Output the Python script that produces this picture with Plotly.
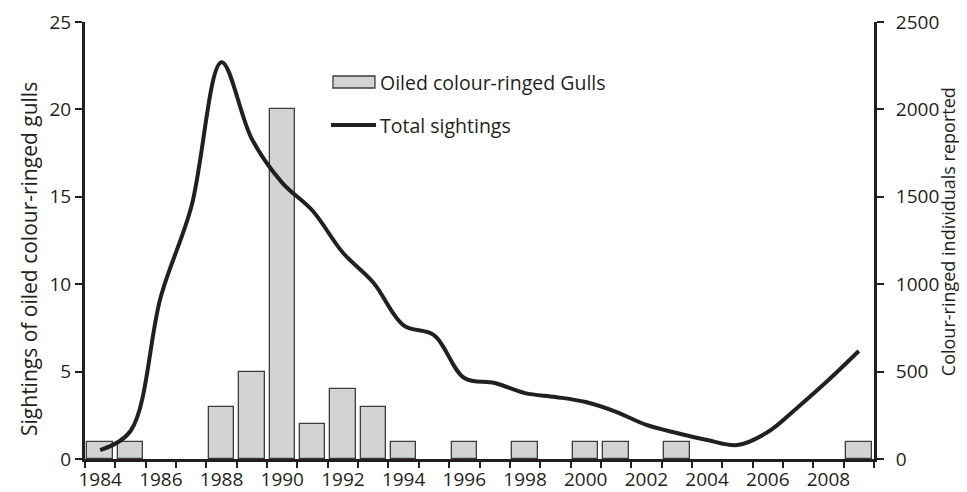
import plotly.graph_objects as go

years = list(range(1984, 2010))
oiled = [1, 1, 0, 0, 3, 5, 20, 2, 4, 3, 1, 0, 1, 0, 1, 0, 1, 1, 0, 1, 0, 0, 0, 0, 0, 1]
total = [51, 160, 930, 1440, 2270, 1830, 1580, 1420, 1180, 1010, 765, 709, 463, 435,
         377, 355, 326, 270, 195, 149, 109, 80, 154, 298, 452, 618]
tick_years = list(range(1984, 2009, 2))

INK = "#231f20"
FONT = "Open Sans"
TICK_SIZE = 19
TEXT_SIZE = 19.5

bar_years = [y for y, v in zip(years, oiled) if v > 0]
bar_vals = [v for v in oiled if v > 0]

fig = go.Figure()
fig.add_trace(go.Bar(
    x=bar_years, y=bar_vals, width=0.84,
    marker=dict(color="#d1d3d4", line=dict(color="#3c3c3c", width=1.3)),
    name="Oiled colour-ringed Gulls", showlegend=False,
))
fig.add_trace(go.Scatter(
    x=years, y=total, yaxis="y2", mode="lines",
    line=dict(color=INK, width=4, shape="spline", smoothing=1.0),
    name="Total sightings", showlegend=False,
))

axis_common = dict(
    showline=True, linecolor=INK, linewidth=3, showgrid=False, zeroline=False,
    automargin=False,
    tickfont=dict(family=FONT, size=TICK_SIZE, color=INK),
)

# the page body adds an 8px offset, so the figure is sized to fit the window
fig.update_layout(
    width=959, height=484,
    margin=dict(l=77, r=93, t=14, b=33),
    plot_bgcolor="white", paper_bgcolor="white",
    font=dict(family=FONT, color=INK),
    bargap=0,
    xaxis=dict(
        **axis_common, range=[1983.5, 2009.5], tickmode="array",
        tickvals=tick_years, ticktext=[str(y) for y in tick_years], ticks="",
        ticklabelstandoff=1,
        minor=dict(tickmode="linear", tick0=1983.5, dtick=1, ticks="outside",
                   ticklen=6, tickwidth=2, tickcolor=INK),
    ),
    yaxis=dict(
        **axis_common, range=[0, 25], tickvals=[0, 5, 10, 15, 20, 25],
        ticks="outside", ticklen=7, tickwidth=2, tickcolor=INK,
    ),
    yaxis2=dict(
        **axis_common, range=[0, 2500], tickvals=[0, 500, 1000, 1500, 2000, 2500],
        overlaying="y", side="right", ticklabelstandoff=8,
        ticks="outside", ticklen=7, tickwidth=2, tickcolor=INK,
    ),
)

# Axis titles
fig.add_annotation(xref="paper", yref="paper", x=-0.071, y=0.4577, textangle=-90,
                   xanchor="center", yanchor="middle", showarrow=False,
                   text="Sightings of oiled colour-ringed gulls",
                   font=dict(family=FONT, size=21, color=INK))
fig.add_annotation(xref="paper", yref="paper", x=1.094, y=0.5194, textangle=-90,
                   xanchor="center", yanchor="middle", showarrow=False,
                   text="Colour-ringed individuals reported",
                   font=dict(family=FONT, size=18, color=INK))

# Legend (drawn manually to match the original's wide bar swatch)
fig.add_shape(type="rect", xref="paper", yref="paper", x0=0.3143, x1=0.3675,
              y0=0.849, y1=0.8764, fillcolor="#d1d3d4", line=dict(color="#3c3c3c", width=1.3))
fig.add_shape(type="line", xref="paper", yref="paper", x0=0.3118, x1=0.3688,
              y0=0.7643, y1=0.7643, line=dict(color=INK, width=4))
fig.add_annotation(xref="paper", yref="paper", x=0.3714, y=0.8627, xanchor="left",
                   yanchor="middle", showarrow=False, text="Oiled colour-ringed Gulls",
                   font=dict(family=FONT, size=TEXT_SIZE, color=INK))
fig.add_annotation(xref="paper", yref="paper", x=0.3714, y=0.7643, xanchor="left",
                   yanchor="middle", showarrow=False, text="Total sightings",
                   font=dict(family=FONT, size=TEXT_SIZE, color=INK))

fig.write_html("out.html")
